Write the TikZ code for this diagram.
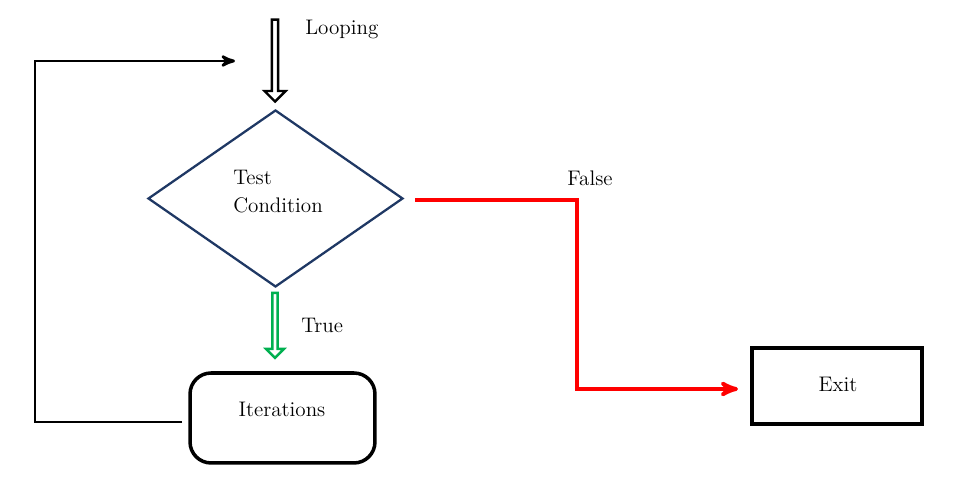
\documentclass[tikz,border=0pt]{standalone}
\usepackage{tikz}
\usetikzlibrary{arrows,shapes.geometric,shapes.arrows}
\definecolor{navy}{HTML}{1F3864}
\definecolor{flowgreen}{HTML}{00B050}
\tikzset{
  hollow/.style={single arrow, draw, fill=white, rotate=-90, minimum width=0.42cm,
    single arrow head extend=0.06cm, inner sep=0pt, line width=1.4pt},
  txt/.style={font=\large}
}
\begin{document}
\begin{tikzpicture}[x=0.02cm,y=-0.02cm,>=stealth',line width=1.6pt]
\useasboundingbox (0,0) rectangle (958,492);

\node[hollow, minimum height=1.64cm] (loopin) at (275,59) {};
\node[txt, anchor=west] (looping) at (298,29) {Looping};

\node[diamond, draw=navy, line width=1.3pt, minimum width=5.1cm,
  minimum height=3.54cm, inner sep=0pt] (test) at (275.5,198.5) {};
\node[txt, align=left, anchor=west] (testtxt) at (226,192) {Test\\[2pt]Condition};

\node[hollow, draw=flowgreen, minimum height=1.3cm, minimum width=0.36cm] (truein) at (275,324) {};
\node[txt, anchor=west] (true) at (294,325) {True};

\node[draw, rounded corners=12pt, minimum width=3.7cm,
  minimum height=1.8cm, line width=2pt] (iter) at (282.5,418) {};
\node[txt] (itertxt) at (282,409) {Iterations};

\node[draw, minimum width=3.4cm, minimum height=1.52cm,
  line width=2.4pt] (exit) at (837,386) {};
\node[txt] (exittxt) at (838,384) {Exit};
\node[txt] (false) at (590,178) {False};

\coordinate (back) at (235,61);
\coordinate (iterout) at (182,422);
\coordinate (testout) at (415,200);
\coordinate (exitin) at (738,389);
\draw[->] (iterout) -- (35,422) -- (35,61) -- (back);
\draw[->, red, line width=2.2pt] (testout) -- (577,200) -- (577,389) -- (exitin);
\end{tikzpicture}
\end{document}
